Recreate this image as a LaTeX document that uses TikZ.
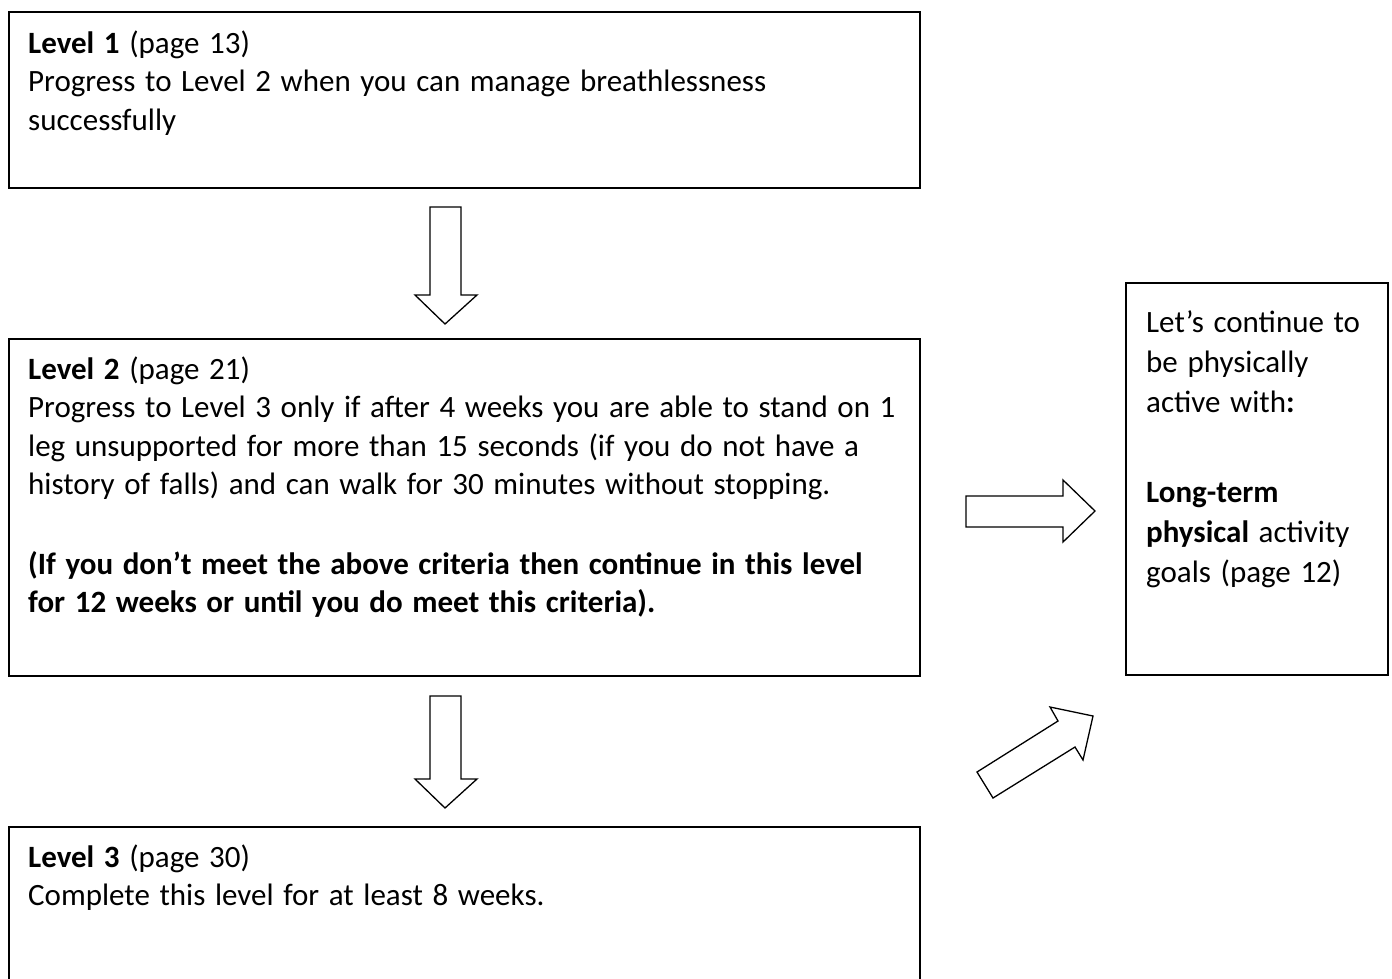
\documentclass[tikz,border=0pt]{standalone}
\usepackage{fontspec}
\setmainfont{Carlito}
\newcommand\mytightsp{\spaceskip=0.31em plus 0.05em\relax}
\begin{document}
\begin{tikzpicture}[x=1pt,y=-1pt,
  box/.style={draw, line width=1.6pt, inner sep=0pt, anchor=north west},
  txt/.style={anchor=base west, inner sep=0pt, align=left, text width=1000pt,
    font=\fontsize{31}{38.5}\selectfont, execute at begin node=\mytightsp},
  blk/.style={draw, line width=1.3pt, line join=miter}]
\useasboundingbox (0,0) rectangle (1392,978);
\clip (0,0) rectangle (1392,978);
% boxes
\node[box, minimum width=911pt, minimum height=176pt] (b1) at (8,11) {};
\node[box, minimum width=911pt, minimum height=337pt] (b2) at (8,338) {};
\node[box, minimum width=911pt, minimum height=200pt] (b3) at (8,826) {};
\node[box, minimum width=262pt, minimum height=392pt] (b4) at (1125,282) {};
% texts
\node[txt] (t1) at (28,53) {\textbf{Level 1} (page 13)\\
Progress to Level 2 when you can manage breathlessness\\
successfully};
\node[txt] (t2) at (28,379) {\textbf{Level 2} (page 21)\\
Progress to Level 3 only if after 4 weeks you are able to stand on 1\\
leg unsupported for more than 15 seconds (if you do not have a\\
history of falls) and can walk for 30 minutes without stopping.\\[41pt]
\textbf{(If you don’t meet the above criteria then continue in this level}\\
\textbf{for 12 weeks or until you do meet this criteria).}};
\node[txt] (t3) at (28,867) {\textbf{Level 3} (page 30)\\
Complete this level for at least 8 weeks.};
\node[txt, text width=260pt, font=\fontsize{31}{40}\selectfont] (t4) at (1146,332) {Let’s continue to\\
be physically\\
active with\textbf{:}\\[50pt]
\textbf{Long-term}\\
\textbf{physical} activity\\
goals (page 12)};
% block arrows
\draw[blk] (430,207) -- (461,207) -- (461,295) -- (477,295) -- (445,324) -- (415,295) -- (430,295) -- cycle;
\draw[blk] (430,696) -- (461,696) -- (461,779) -- (477,779) -- (445,808) -- (415,779) -- (430,779) -- cycle;
\draw[blk] (966,496) -- (1063,496) -- (1063,480) -- (1095,511) -- (1063,542) -- (1063,527) -- (966,527) -- cycle;
\draw[blk] (977,772) -- (1058,721) -- (1050,707) -- (1093,716) -- (1083,760) -- (1075,747) -- (993,798) -- cycle;
\end{tikzpicture}
\end{document}
